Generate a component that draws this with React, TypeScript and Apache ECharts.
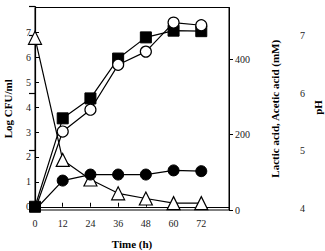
import React, { useEffect, useRef } from "react";
import * as echarts from "echarts";

const hours = [0, 12, 24, 36, 48, 60, 72];
const logCfu = [0, 3.55, 4.35, 5.95, 6.8, 7.07, 7.05];
const lacticAcid = [0, 208, 266, 385, 420, 497, 490];
const aceticAcid = [0, 78, 94, 94, 94, 105, 103];
const phValues = [6.96, 4.84, 4.5, 4.26, 4.17, 4.09, 4.09];

const xTicks = [0, 12, 24, 36, 48, 60, 72];
const logTicks = [0, 1, 2, 3, 4, 5, 6, 7];
const acidTicks = [0, 200, 400];
const phLabelTicks = [4, 5, 6, 7];
const phTickMarks = [4, 5, 6, 7, 7.5];

const FONT = "'Liberation Serif', 'DejaVu Serif', serif";

export default function App() {
  const ref = useRef<HTMLDivElement>(null);
  useEffect(() => {
    if (!ref.current) return;
    const chart = echarts.init(ref.current, undefined, { renderer: "svg" });
    const pairs = (ys: number[]) => hours.map((h, i) => [h, ys[i]]);
    const label = { color: "#222", fontSize: 10, fontFamily: FONT };
    const nameStyle = { color: "#000", fontSize: 11, fontWeight: "bold", fontFamily: FONT };
    const axisLine = { show: true, lineStyle: { color: "#000", width: 1 } };
    chart.setOption({
      animation: false,
      backgroundColor: "#fff",
      grid: [
        { left: 35, right: 96, top: 7.5, bottom: 41, show: true, borderColor: "#000", borderWidth: 1, containLabel: false, outerBoundsMode: "none" },
        { left: 35, right: 96, top: 6.7, bottom: 42.7, show: false, containLabel: false, outerBoundsMode: "none" },
      ],
      xAxis: [
        {
          type: "value", gridIndex: 0, min: 0, max: 84, interval: 12,
          name: "Time (h)", nameLocation: "middle", nameGap: 28, nameTextStyle: nameStyle,
          axisLine,
          axisTick: { show: true, inside: true, length: 4, customValues: xTicks, lineStyle: { color: "#000" } },
          axisLabel: { ...label, margin: 8, customValues: xTicks },
          splitLine: { show: false },
        },
        { type: "value", gridIndex: 1, min: 0, max: 84, show: false },
      ],
      yAxis: [
        {
          type: "value", gridIndex: 0, min: -0.13, max: 8, position: "left",
          name: "Log CFU/ml", nameLocation: "middle", nameGap: 22, nameTextStyle: nameStyle,
          axisLine,
          axisTick: { show: true, inside: true, length: 4, customValues: logTicks, lineStyle: { color: "#000" } },
          axisLabel: { ...label, margin: 4, customValues: logTicks },
          splitLine: { show: false },
        },
        {
          type: "value", gridIndex: 0, min: 0, max: 537, position: "right",
          name: "Lactic acid, Acetic acid (mM)", nameLocation: "middle", nameGap: 40, nameRotate: 90,
          nameTextStyle: nameStyle,
          axisLine,
          axisTick: { show: true, inside: false, length: 4, customValues: acidTicks, lineStyle: { color: "#000" } },
          axisLabel: { ...label, margin: 6, customValues: acidTicks },
          splitLine: { show: false },
        },
        {
          type: "value", gridIndex: 1, min: 4, max: 7.5, position: "right", offset: 64,
          name: "pH", nameLocation: "middle", nameGap: 19, nameRotate: 90, nameMoveOverlap: false,
          nameTextStyle: nameStyle,
          axisLine: { show: true, lineStyle: { color: "#000", width: 1.2 } },
          axisTick: { show: true, inside: true, length: 6, customValues: phTickMarks, lineStyle: { color: "#000", width: 1.2 } },
          axisLabel: { ...label, margin: 7, customValues: phLabelTicks },
          splitLine: { show: false },
        },
      ],
      series: [
        {
          name: "pH", type: "line", xAxisIndex: 1, yAxisIndex: 2, data: pairs(phValues),
          symbol: "triangle", symbolSize: 13, showAllSymbol: true,
          itemStyle: { color: "#fff", borderColor: "#000", borderWidth: 1.2 },
          lineStyle: { color: "#000", width: 1.2 },
        },
        {
          name: "Acetic acid", type: "line", xAxisIndex: 0, yAxisIndex: 1,
          data: hours.map((h, i) => (i === 0 ? { value: [h, aceticAcid[i]], symbol: "none" } : [h, aceticAcid[i]])),
          symbol: "circle", symbolSize: 11, showAllSymbol: true,
          itemStyle: { color: "#000", borderColor: "#000" },
          lineStyle: { color: "#000", width: 1.2 },
        },
        {
          name: "Log CFU", type: "line", xAxisIndex: 0, yAxisIndex: 0, data: pairs(logCfu),
          symbol: "rect", symbolSize: 11, showAllSymbol: true,
          itemStyle: { color: "#000", borderColor: "#000" },
          lineStyle: { color: "#000", width: 1.2 },
        },
        {
          name: "Lactic acid", type: "line", xAxisIndex: 0, yAxisIndex: 1,
          data: hours.map((h, i) => (i === 0 ? { value: [h, lacticAcid[i]], symbol: "none" } : [h, lacticAcid[i]])),
          symbol: "circle", symbolSize: 11, showAllSymbol: true,
          itemStyle: { color: "#fff", borderColor: "#000", borderWidth: 1.2 },
          lineStyle: { color: "#000", width: 1.2 },
        },
      ],
    });
    return () => chart.dispose();
  }, []);
  return (
    <div
      ref={ref}
      style={{ position: "fixed", left: 0, top: 0, width: 325, height: 251, background: "#fff" }}
    />
  );
}
